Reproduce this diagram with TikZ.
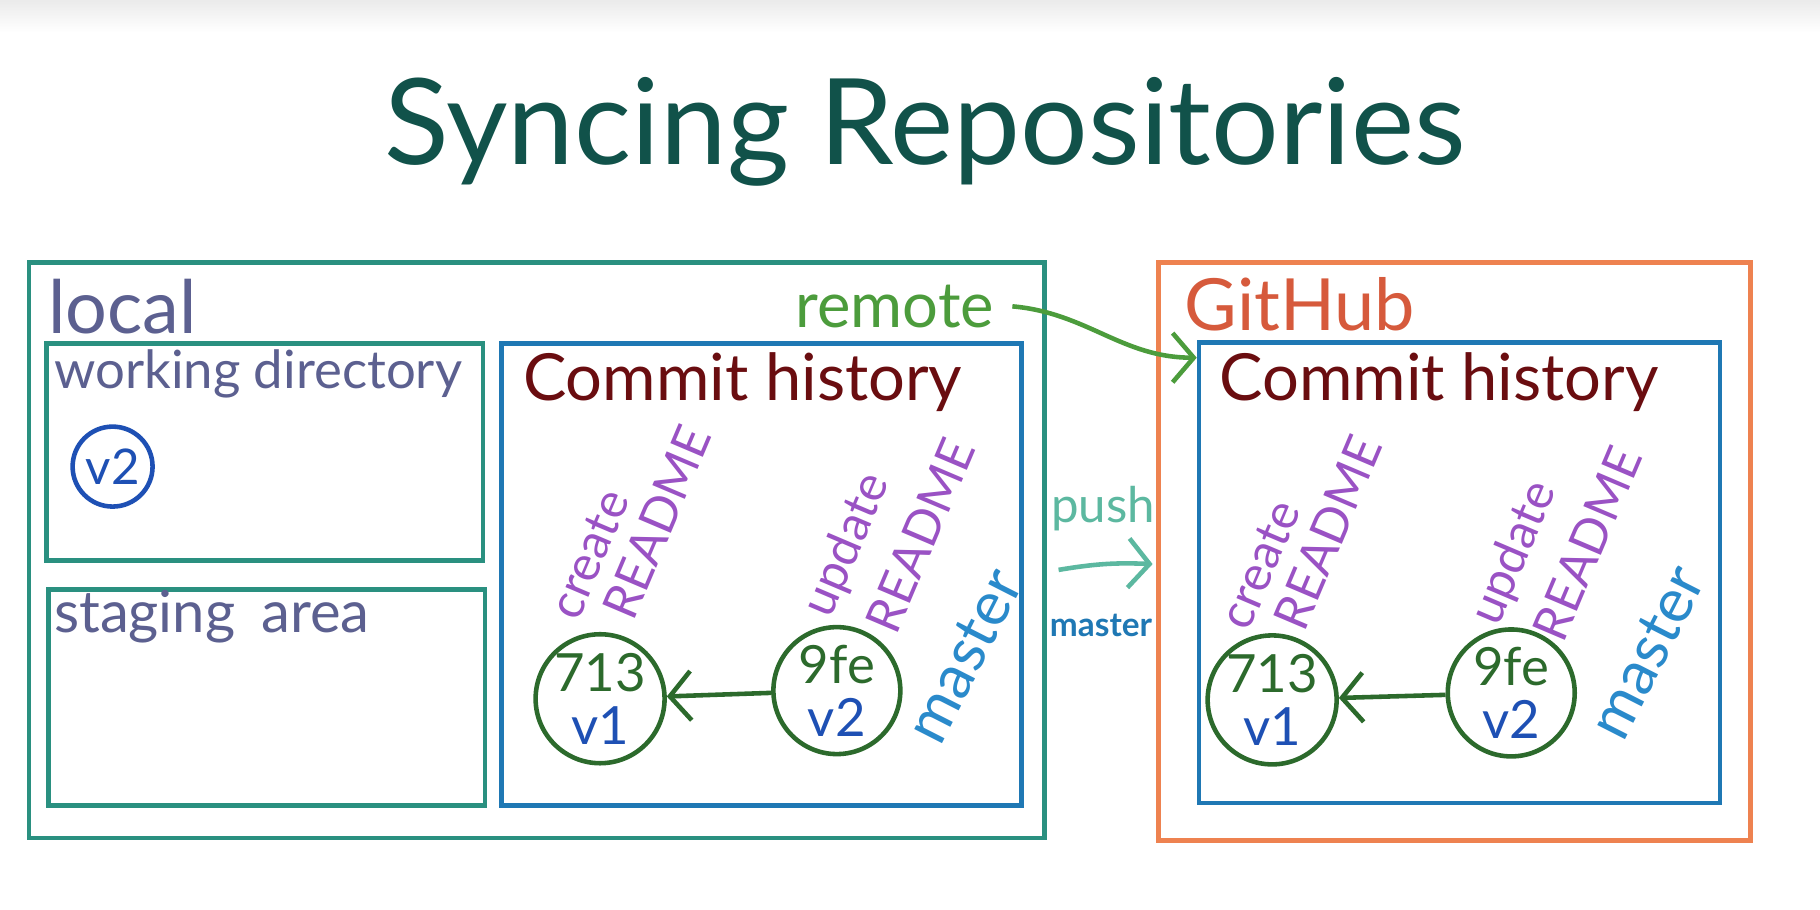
\documentclass[tikz,border=0pt]{standalone}
\usepackage{fontspec}
\setmainfont{Lato}
\usetikzlibrary{arrows.meta, positioning}

\definecolor{titlegreen}{HTML}{11524A}
\definecolor{localteal}{HTML}{2A9080}
\definecolor{histblue}{HTML}{1F78B4}
\definecolor{huborange}{HTML}{EE8250}
\definecolor{hubred}{HTML}{D65A3C}
\definecolor{slate}{HTML}{5C6090}
\definecolor{histred}{HTML}{6A0D10}
\definecolor{msgpurple}{HTML}{9A52C4}
\definecolor{branchblue}{HTML}{2A8ACB}
\definecolor{commitgreen}{HTML}{2C6A2C}
\definecolor{verblue}{HTML}{1E50B4}
\definecolor{remotegreen}{HTML}{4C9C3C}
\definecolor{pushteal}{HTML}{5CB8A0}

\newcommand{\pxu}{0.011607cm}
\newcommand{\fs}[1]{\fontsize{#1}{#1}\selectfont}

\begin{document}
\begin{tikzpicture}[
      x=0.011607cm, y=-0.011607cm,
      boxline/.style={rectangle, draw, line width=1.3pt, inner sep=0pt},
      txt/.style={inner sep=0pt, anchor=base west},
      commit/.style={circle, draw=commitgreen, line width=1.3pt,
                     minimum size=1.27cm, inner sep=0pt, align=center,
                     font=\fs{15}},
      msg/.style={rotate=67, inner sep=0pt, align=left, text=msgpurple,
                  font=\fontsize{14}{#1}\selectfont},
      branch/.style={rotate=63, inner sep=0pt, text=branchblue, font=\fs{17.5}},
      arr/.style={-{Straight Barb[length=6pt, width=14pt]}, line width=1.3pt}
    ]
    \useasboundingbox (0,0) rectangle (1568,784);
    \fill[white] (0,0) rectangle (1568,784);
    \fill[top color=black!8, bottom color=white, draw=none] (0,0) rectangle (1568,28);

    % title
    \node[inner sep=0pt, anchor=base, text=titlegreen, font=\fs{34}] (title) at (797,142)
      {Syncing Repositories};

    % local side
    \node[boxline, draw=localteal, minimum width=875*\pxu, minimum height=496*\pxu]
      (local) at (462.5,474) {};
    \node[txt, text=slate, font=\fs{21}] (locallbl) at (41,287) {local};
    \node[boxline, draw=localteal, minimum width=376*\pxu, minimum height=187*\pxu]
      (workdir) at (228,389.5) {};
    \node[txt, text=slate, font=\fs{15}] (workdirlbl) at (46,335) {working directory};
    \node[circle, draw=verblue, line width=1.3pt, minimum size=0.8cm, inner sep=0pt,
          text=verblue, font=\fs{14}] (wdv2) at (97,402) {v2};
    \node[boxline, draw=localteal, minimum width=376*\pxu, minimum height=186*\pxu]
      (staging) at (230,601) {};
    \node[txt, text=slate, font=\fs{16.5}] (staginglbl) at (46,545)
      {staging\hspace{0.45em}area};

    \node[boxline, draw=histblue, minimum width=448*\pxu, minimum height=398*\pxu]
      (localhist) at (656,495) {};
    \node[txt, text=histred, font=\fs{18.5}] (localhistlbl) at (450,345) {Commit history};
    \node[msg=14.5] (lcreate) at (543,450) {create\\\hspace*{6pt}README};
    \node[msg=19] (lupdate) at (764,454) {update\\\hspace*{3pt}README};
    \node[branch] (lmaster) at (831,565) {master};
    \node[commit] (l713) at (517,602) {\textcolor{commitgreen}{713}\\\textcolor{verblue}{v1}};
    \node[commit] (l9fe) at (721,595) {\textcolor{commitgreen}{9fe}\\\textcolor{verblue}{v2}};
    \draw[arr, commitgreen] (l9fe) -- (l713);

    \node[txt, text=remotegreen, font=\fs{18}] (remote) at (685,282) {remote};

    % push
    \node[txt, text=pushteal, font=\fs{14}] (push) at (905,450) {push};
    \coordinate (pushtail) at (912,491);
    \coordinate (pushhead) at (993,486);
    \draw[arr, pushteal] (pushtail) to[bend left=6] (pushhead);
    \node[txt, text=histblue, font=\bfseries\fs{9.5}] (pushbranch) at (904,548) {master};

    % github side
    \node[boxline, draw=huborange, minimum width=510*\pxu, minimum height=498*\pxu]
      (github) at (1253,475) {};
    \node[txt, text=hubred, font=\fs{20.5}] (githublbl) at (1020,285) {GitHub};
    \node[boxline, draw=histblue, minimum width=449*\pxu, minimum height=397*\pxu]
      (ghhist) at (1257.5,493.5) {};
    \node[txt, text=histred, font=\fs{18.5}] (ghhistlbl) at (1050,345) {Commit history};
    \node[msg=14.5] (gcreate) at (1121,459) {create\\\hspace*{6pt}README};
    \node[msg=19] (gupdate) at (1339,461) {update\\\hspace*{3pt}README};
    \node[branch] (gmaster) at (1419,562) {master};
    \node[commit] (g713) at (1096,603) {\textcolor{commitgreen}{713}\\\textcolor{verblue}{v1}};
    \node[commit] (g9fe) at (1302,597) {\textcolor{commitgreen}{9fe}\\\textcolor{verblue}{v2}};
    \draw[arr, commitgreen] (g9fe) -- (g713);

    \draw[arr, remotegreen] ([xshift=5pt]remote.east) to[out=-5, in=180]
      ([yshift=-5pt]ghhist.north west);
  \end{tikzpicture}
\end{document}
